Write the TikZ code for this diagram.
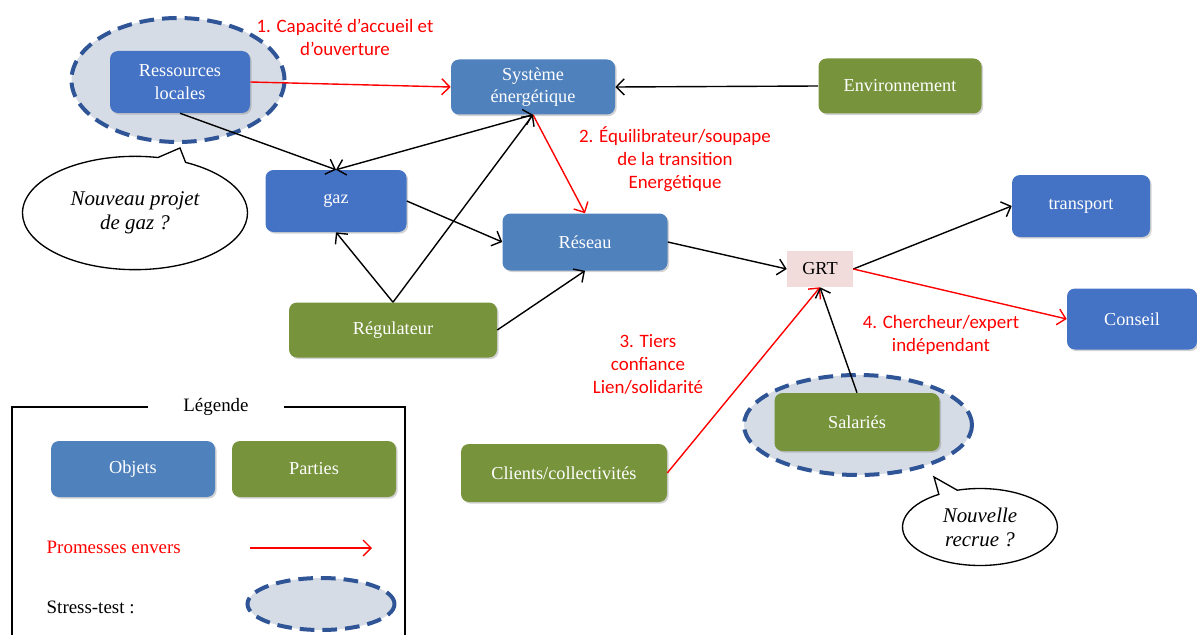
\documentclass[tikz,border=0pt]{standalone}
\usepackage{fontspec}
\setmainfont{Liberation Serif}
\newfontfamily\calibri{Carlito}
\usetikzlibrary{arrows.meta, shadows, shapes.geometric, shapes.callouts}
\definecolor{objblue}{HTML}{4F81BD}
\definecolor{darkblue}{HTML}{4472C4}
\definecolor{partgreen}{HTML}{77933C}
\definecolor{stressfill}{HTML}{D6DCE5}
\definecolor{stressline}{HTML}{2F5597}
\definecolor{grtpink}{HTML}{F2DCDB}
\newcommand\boxfont{\fontsize{13.7}{17}\selectfont}
\newcommand\promfont{\calibri\fontsize{14.2}{17.3}\selectfont}
\newcommand\bullefont{\itshape\fontsize{15.7}{18}\selectfont}
\newcommand\legfont{\fontsize{14.2}{17}\selectfont}
\tikzset{
    objet/.style={
        rectangle, rounded corners=6pt,
        fill=objblue, text=white, inner sep=2pt,
        align=center, font=\boxfont,
        drop shadow={shadow xshift=1.2pt, shadow yshift=-1.2pt, opacity=0.35}
    },
    objet fonce/.style={objet, fill=darkblue},
    partie/.style={objet, fill=partgreen},
    promesse/.style={text=red, font=\promfont, align=center},
    stress/.style={
        ellipse, fill=stressfill, draw=stressline,
        line width=3pt, dash pattern=on 11pt off 6pt
    },
    bulle/.style={
        ellipse callout, draw, line width=1pt, fill=white,
        font=\bullefont, align=center, inner sep=0pt
    },
    pointe/.tip={Straight Barb[length=6pt, width=12pt]},
    lien/.style={-pointe, line width=1.05pt},
    lien rouge/.style={lien, color=red}
}
\begin{document}
\begin{tikzpicture}[x=0.75pt, y=-0.75pt]
    \useasboundingbox (0,0) rectangle (1197,635);

    % --- Stress-test ellipses ---
    \node[stress, minimum width=159.75pt, minimum height=93pt] (st_res) at (178,80) {};
    \node[stress, minimum width=171pt, minimum height=75pt] (st_sal) at (858,425) {};

    % --- Objets ---
    \node[objet fonce, minimum width=105pt, minimum height=46.5pt] (res_loc) at (180,82) {Ressources\\locales};
    \node[objet, minimum width=123pt, minimum height=41.25pt] (sys_en) at (533,87) {Système\\énergétique};
    \node[objet fonce, minimum width=105.75pt, minimum height=46.5pt] (gaz) at (336,201) {gaz};
    \node[objet, minimum width=123.75pt, minimum height=42.75pt] (reseau) at (585,242) {Réseau};
    \node[objet fonce, minimum width=103.5pt, minimum height=46.5pt] (transport) at (1081,206) {transport};
    \node[objet fonce, minimum width=97.5pt, minimum height=45.75pt] (conseil) at (1132,319) {Conseil};

    % --- Parties ---
    \node[partie, minimum width=122.25pt, minimum height=41.25pt] (env) at (900,86) {Environnement};
    \node[partie, minimum width=156pt, minimum height=41.25pt] (regul) at (393,330) {Régulateur};
    \node[partie, minimum width=154.5pt, minimum height=43.5pt] (clients) at (564,473) {Clients/collectivités};
    \node[partie, minimum width=123.75pt, minimum height=43.5pt] (salaries) at (857,422) {Salariés};

    % --- GRT ---
    \node[rectangle, fill=grtpink, font=\boxfont, minimum width=49.5pt, minimum height=27pt] (grt) at (820,269) {GRT};

    % --- Callouts ---
    \node[bulle, minimum width=168.75pt, minimum height=85pt,
        callout absolute pointer={(180,148)}] (bulle_gaz) at (135,213) {Nouveau projet\\de gaz~?};
    \node[bulle, minimum width=116.25pt, minimum height=57.75pt,
        callout absolute pointer={(934,477)}] (bulle_sal) at (980,527) {Nouvelle\\recrue~?};

    % --- Promesses (labels) ---
    \node[promesse] (prom1) at (345,37) {1. Capacité d’accueil et\\d’ouverture};
    \node[promesse] (prom2) at (675,159) {2. Équilibrateur/soupape\\de la transition\\Energétique};
    \node[promesse] (prom3) at (648,364) {3. Tiers\\confiance\\Lien/solidarité};
    \node[promesse] (prom4) at (941,335) {4. Chercheur/expert\\indépendant};

    % --- Arrows ---
    \draw[lien rouge] (res_loc.east) -- (sys_en.west);
    \draw[lien] (env.west) -- (sys_en.east);
    \draw[lien] (res_loc.south) -- (gaz.north);
    \draw[lien, pointe-pointe] (gaz.north) -- (sys_en.south);
    \draw[lien rouge] (sys_en.south) -- (reseau.north);
    \draw[lien] (gaz.east) -- (reseau.west);
    \draw[lien] (regul.north) -- (gaz.south);
    \draw[lien] (regul.north) -- (sys_en.south);
    \draw[lien] (regul.east) -- (reseau.south);
    \draw[lien] (reseau.east) -- (grt.west);
    \draw[lien] (grt.east) -- (transport.west);
    \draw[lien rouge] (grt.east) -- (conseil.west);
    \draw[lien rouge] (clients.east) -- (grt.south);
    \draw[lien] (salaries.north) -- (grt.south);

    % --- Legende ---
    \node[font=\legfont, minimum width=102pt] (leg_titre) at (216,407) {Légende};
    \draw[line width=1pt] (leg_titre.west) -| (12,640);
    \draw[line width=1pt] (leg_titre.east) -| (405,640);
    \node[objet, minimum width=123pt, minimum height=42pt] (leg_obj) at (133,469) {Objets};
    \node[partie, minimum width=123pt, minimum height=42pt] (leg_part) at (314,469) {Parties};
    \node[text=red, font=\legfont, anchor=west] (leg_prom) at (42,547) {Promesses envers};
    \coordinate (prom_a) at (250,548);
    \coordinate (prom_b) at (372,548);
    \draw[lien rouge] (prom_a) -- (prom_b);
    \node[font=\legfont, anchor=west] (leg_st) at (42,607) {Stress-test :};
    \node[stress, minimum width=110.25pt, minimum height=39pt] (leg_ell) at (321,604) {};

\end{tikzpicture}
\end{document}
